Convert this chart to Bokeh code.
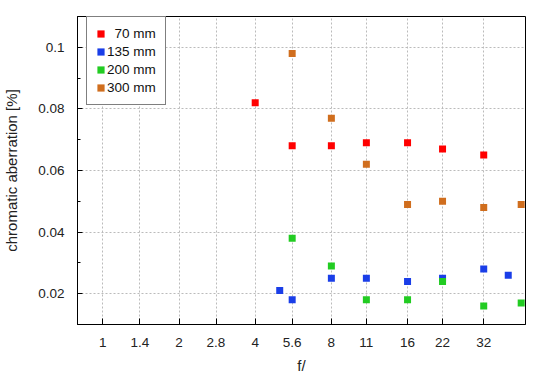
from bokeh.plotting import figure
from bokeh.models import (Range1d, FixedTicker, SingleIntervalTicker,
                          CustomJSTickFormatter, Legend, LegendItem)
from bokeh.embed import file_html
from bokeh.resources import INLINE

# ---- data ----
x_ticks = [1, 1.4, 2, 2.8, 4, 5.6, 8, 11, 16, 22, 32]

f_70 = [4, 5.6, 8, 11, 16, 22, 32]
ca_70 = [0.082, 0.068, 0.068, 0.069, 0.069, 0.067, 0.065]

f_135 = [5, 5.6, 8, 11, 16, 22, 32, 40]
ca_135 = [0.021, 0.018, 0.025, 0.025, 0.024, 0.025, 0.028, 0.026]

f_200 = [5.6, 8, 11, 16, 22, 32, 45]
ca_200 = [0.038, 0.029, 0.018, 0.018, 0.024, 0.016, 0.017]

f_300 = [5.6, 8, 11, 16, 22, 32, 45]
ca_300 = [0.098, 0.077, 0.062, 0.049, 0.050, 0.048, 0.049]

labels = ["\u200770 mm", "135 mm", "200 mm", "300 mm"]
colors = ["#ff0000", "#1a3ee8", "#22cc22", "#d06e1e"]

FONT = "Liberation Sans"

p = figure(width=542, height=376, x_axis_type="log",
           x_range=Range1d(0.794, 46.8), y_range=Range1d(0.01, 0.11),
           output_backend="svg", toolbar_location=None,
           min_border_left=77, min_border_top=16, min_border_right=17,
           min_border_bottom=51,
           background_fill_color="white", border_fill_color="white")

p.outline_line_color = "black"
p.outline_line_width = 1
p.outline_line_alpha = 1

# x axis
p.xaxis.ticker = FixedTicker(ticks=x_ticks, minor_ticks=[])
p.xaxis.formatter = CustomJSTickFormatter(code="return tick.toString()")
p.xaxis.axis_label = "f/"
p.xaxis.major_tick_in = 6
p.xaxis.major_tick_out = 0
p.xaxis.minor_tick_in = 0
p.xaxis.minor_tick_out = 0
p.xaxis.axis_label_standoff = 7
p.xaxis.major_label_standoff = 13

# y axis
p.yaxis.ticker = SingleIntervalTicker(interval=0.02, num_minor_ticks=2)
p.yaxis.formatter = CustomJSTickFormatter(
    code="return Number(tick.toFixed(3)).toString()")
p.yaxis.axis_label = "chromatic aberration [%]"
p.yaxis.major_tick_in = 5
p.yaxis.major_tick_out = 0
p.yaxis.minor_tick_in = 3
p.yaxis.minor_tick_out = 0
p.yaxis.axis_label_standoff = 15
p.yaxis.major_label_standoff = 13

for ax in (p.xaxis, p.yaxis):
    ax.axis_line_color = "black"
    ax.major_tick_line_color = "black"
    ax.minor_tick_line_color = "black"
    ax.major_label_text_font = FONT
    ax.major_label_text_font_size = "13.5px"
    ax.major_label_text_color = "#222222"
    ax.axis_label_text_font = FONT
    ax.axis_label_text_font_size = "15px"
    ax.axis_label_text_font_style = "normal"
    ax.axis_label_text_color = "#222222"

for g in (p.xgrid, p.ygrid):
    g.grid_line_color = "#bbbbbb"
    g.grid_line_dash = "2 2"
    g.grid_line_width = 1

renderers = []
for xs, ys, c in [(f_70, ca_70, colors[0]), (f_135, ca_135, colors[1]),
                  (f_200, ca_200, colors[2]), (f_300, ca_300, colors[3])]:
    r = p.rect(x=xs, y=ys, width=7, height=7, width_units="screen",
               height_units="screen", fill_color=c, line_color=None)
    renderers.append(r)

legend = Legend(items=[LegendItem(label=l, renderers=[r])
                       for l, r in zip(labels, renderers)],
                location=(9, 219), orientation="vertical",
                glyph_width=9, glyph_height=9, label_height=15,
                label_standoff=2, spacing=3, padding=9, margin=0,
                border_line_color="black", border_line_width=1,
                background_fill_color="white", background_fill_alpha=1,
                label_text_font=FONT, label_text_font_size="13.5px",
                label_text_color="#111111")
p.add_layout(legend, "center")

open("out.html", "w").write(file_html(p, INLINE))
